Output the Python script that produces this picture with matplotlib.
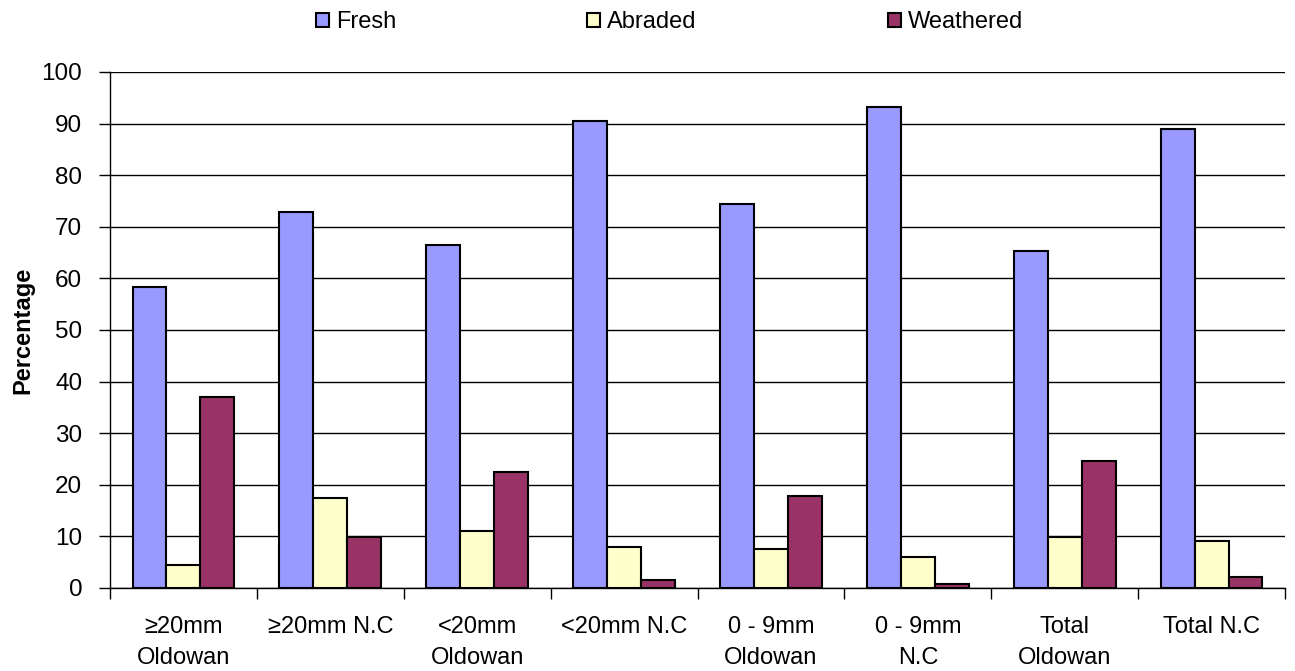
import numpy as np
import matplotlib.pyplot as plt
from matplotlib.ticker import FixedLocator

plt.rcParams['font.family'] = ['Liberation Sans', 'DejaVu Sans']

categories = ['≥20mm\nOldowan', '≥20mm N.C', '<20mm\nOldowan', '<20mm N.C',
              '0 - 9mm\nOldowan', '0 - 9mm\nN.C', 'Total\nOldowan', 'Total N.C']
series = ['Fresh', 'Abraded', 'Weathered']
fresh = [58.4, 72.9, 66.4, 90.5, 74.4, 93.2, 65.3, 89.0]
abraded = [4.5, 17.5, 11.0, 7.9, 7.5, 6.0, 9.8, 9.1]
weathered = [37.0, 9.8, 22.5, 1.5, 17.8, 0.7, 24.7, 2.2]
colors = ['#9999FF', '#FFFFCC', '#993366']

fig = plt.figure(figsize=(12.95, 6.71), dpi=100)
# axes: x from 110 to 1285 px, y from 72 to 588 px
ax = fig.add_axes([110 / 1295, 1 - 588 / 671, 1175 / 1295, 516 / 671])

x = np.arange(len(categories))
w = 0.231
for i, (name, vals) in enumerate(zip(series, [fresh, abraded, weathered])):
    ax.bar(x + (i - 1) * w, vals, w, color=colors[i], edgecolor='black',
           linewidth=1.5, label=name, zorder=3)

ax.set_xlim(-0.5, len(categories) - 0.5)
ax.set_ylim(0, 100)
ax.set_yticks(range(0, 101, 10))
ax.yaxis.grid(True, color='black', linewidth=1.0, zorder=0)
ax.set_axisbelow(True)

ax.set_xticks(x)
ax.set_xticklabels(categories, fontsize=17, linespacing=1.55)
ax.xaxis.set_minor_locator(FixedLocator(np.arange(-0.5, len(categories), 1)))
ax.tick_params(axis='x', which='major', length=0, pad=20)
ax.tick_params(axis='x', which='minor', length=8, width=1, direction='out')
ax.tick_params(axis='y', length=8, width=1, labelsize=17.5, pad=12)

for s in ['top', 'right']:
    ax.spines[s].set_visible(False)
ax.spines['left'].set_linewidth(1)
ax.spines['bottom'].set_linewidth(1)

ax.set_ylabel('Percentage', fontsize=17, fontweight='bold')
ax.yaxis.set_label_coords(-0.064, 0.5)

fig.legend(loc='center', bbox_to_anchor=(0.517, 1 - 22 / 671), ncol=3, frameon=False,
           fontsize=17, handlelength=0.55, handleheight=0.55, handletextpad=0.3,
           columnspacing=8.1, borderpad=0, borderaxespad=0)

fig.savefig('out.png', dpi=100)
